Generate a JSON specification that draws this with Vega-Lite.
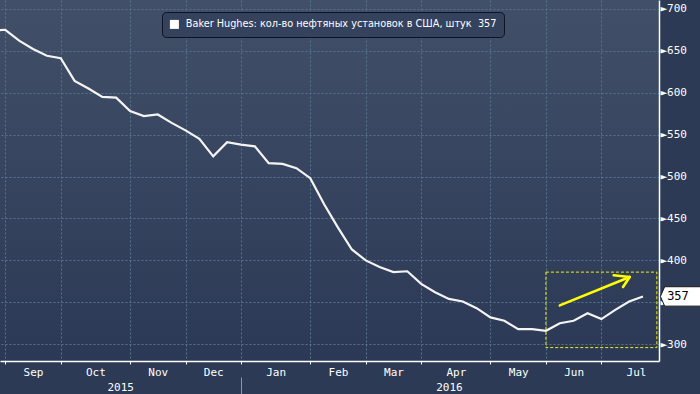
{
  "$schema": "https://vega.github.io/schema/vega-lite/v6.json",
  "autosize": {"type": "none"},
  "width": 659,
  "height": 361,
  "padding": {"left": 0, "top": 0, "right": 41, "bottom": 33},
  "background": "#2c3a56",
  "config": {
    "view": {"stroke": null, "fill": {"gradient": "linear", "x1": 0, "y1": 0, "x2": 0, "y2": 1, "stops": [{"offset": 0, "color": "#424f68"}, {"offset": 1, "color": "#2b3956"}]}},
    "axis": {"labelFont": "DejaVu Sans Mono", "labelFontSize": 11, "labelColor": "#ffffff", "domainColor": "#ffffff", "tickColor": "#ffffff", "gridColor": "#55758e", "gridDash": [2, 2], "gridWidth": 1}
  },
  "resolve": {"axis": {"x": "independent"}},
  "layer": [
    {
      "data": {"values": [
        {"date": "2015-08-21", "rigs": 674}, {"date": "2015-08-28", "rigs": 675}, {"date": "2015-09-04", "rigs": 662},
        {"date": "2015-09-11", "rigs": 652}, {"date": "2015-09-18", "rigs": 644}, {"date": "2015-09-25", "rigs": 641},
        {"date": "2015-10-02", "rigs": 614}, {"date": "2015-10-09", "rigs": 605}, {"date": "2015-10-16", "rigs": 595},
        {"date": "2015-10-23", "rigs": 594}, {"date": "2015-10-30", "rigs": 578}, {"date": "2015-11-06", "rigs": 572},
        {"date": "2015-11-13", "rigs": 574}, {"date": "2015-11-20", "rigs": 564}, {"date": "2015-11-27", "rigs": 555},
        {"date": "2015-12-04", "rigs": 545}, {"date": "2015-12-11", "rigs": 524}, {"date": "2015-12-18", "rigs": 541},
        {"date": "2015-12-25", "rigs": 538}, {"date": "2016-01-01", "rigs": 536}, {"date": "2016-01-08", "rigs": 516},
        {"date": "2016-01-15", "rigs": 515}, {"date": "2016-01-22", "rigs": 510}, {"date": "2016-01-29", "rigs": 498},
        {"date": "2016-02-05", "rigs": 467}, {"date": "2016-02-12", "rigs": 439}, {"date": "2016-02-19", "rigs": 413},
        {"date": "2016-02-26", "rigs": 400}, {"date": "2016-03-04", "rigs": 392}, {"date": "2016-03-11", "rigs": 386},
        {"date": "2016-03-18", "rigs": 387}, {"date": "2016-03-25", "rigs": 372}, {"date": "2016-04-01", "rigs": 362},
        {"date": "2016-04-08", "rigs": 354}, {"date": "2016-04-15", "rigs": 351}, {"date": "2016-04-22", "rigs": 343},
        {"date": "2016-04-29", "rigs": 332}, {"date": "2016-05-06", "rigs": 328}, {"date": "2016-05-13", "rigs": 318},
        {"date": "2016-05-20", "rigs": 318}, {"date": "2016-05-27", "rigs": 316}, {"date": "2016-06-03", "rigs": 325},
        {"date": "2016-06-10", "rigs": 328}, {"date": "2016-06-17", "rigs": 337}, {"date": "2016-06-24", "rigs": 330},
        {"date": "2016-07-01", "rigs": 341}, {"date": "2016-07-08", "rigs": 351}, {"date": "2016-07-15", "rigs": 357}
      ]},
      "mark": {"type": "line", "clip": true, "strokeWidth": 2.2},
      "encoding": {
        "x": {
          "field": "date", "type": "temporal",
          "scale": {"domain": [{"year": 2015, "month": 8, "date": 25, "hours": 8, "utc": true}, {"year": 2016, "month": 7, "date": 23, "hours": 2, "utc": true}], "nice": false},
          "axis": {
            "orient": "bottom", "title": null, "labels": false, "tickSize": 3, "grid": true, "domainWidth": 1.5,
            "values": [
              {"year": 2015, "month": 8, "date": 28, "utc": true}, {"year": 2015, "month": 9, "date": 25, "utc": true},
              {"year": 2015, "month": 10, "date": 30, "utc": true}, {"year": 2015, "month": 11, "date": 27, "utc": true},
              {"year": 2015, "month": 12, "date": 25, "utc": true}, {"year": 2016, "month": 1, "date": 29, "utc": true},
              {"year": 2016, "month": 2, "date": 26, "utc": true}, {"year": 2016, "month": 3, "date": 25, "utc": true},
              {"year": 2016, "month": 4, "date": 29, "utc": true}, {"year": 2016, "month": 5, "date": 27, "utc": true},
              {"year": 2016, "month": 6, "date": 24, "utc": true}
            ]
          }
        },
        "y": {
          "field": "rigs", "type": "quantitative",
          "scale": {"domain": [280, 710.5], "nice": false, "zero": false},
          "axis": {
            "orient": "right", "title": null, "tickSize": 4, "labelPadding": -3, "domainWidth": 1.5, "grid": true,
            "values": [300, 325, 350, 375, 400, 425, 450, 475, 500, 525, 550, 575, 600, 625, 650, 675, 700],
            "labelExpr": "datum.value % 50 == 0 ? '►' + datum.label : ''",
            "labelFlush": false, "labelOverlap": false,
            "gridOpacity": {"condition": {"test": "datum.value % 50 == 0", "value": 1}, "value": 0},
            "tickOpacity": {"condition": {"test": "datum.value % 50 == 0", "value": 0}, "value": 1}
          }
        },
        "color": {
          "datum": "Baker Hughes: кол-во нефтяных установок в США, штук\u00a0 357",
          "type": "nominal",
          "scale": {"range": ["#f4f4f4"]},
          "legend": {
            "orient": "none", "legendX": 162, "legendY": 12, "title": null,
            "fillColor": "#34425e", "strokeColor": "#0d1320", "cornerRadius": 4, "padding": 7,
            "labelFont": "DejaVu Sans Condensed", "labelFontSize": 10.8, "labelColor": "#ffffff", "labelLimit": 0, "labelOffset": 6,
            "symbolType": "square", "symbolSize": 81, "symbolFillColor": "#ffffff", "symbolStrokeColor": "#ffffff", "symbolStrokeWidth": 0,
            "encode": {"symbols": {"update": {"fill": {"value": "#ffffff"}, "stroke": {"value": "#ffffff"}, "strokeWidth": {"value": 0}, "shape": {"value": "square"}, "size": {"value": 81}}}}
          }
        }
      }
    },
    {
      "data": {"values": [{"start": "2016-05-27", "end": "2016-07-22", "low": 296, "high": 386}]},
      "mark": {"type": "rect", "fill": null, "fillOpacity": 0, "stroke": "#f2f200", "strokeWidth": 1, "strokeDash": [3, 2]},
      "encoding": {
        "x": {
          "field": "start", "type": "temporal",
          "axis": {
            "orient": "bottom", "title": null, "ticks": false, "tickSize": 0, "domain": false, "grid": false, "labelPadding": 5,
            "labelFlush": false, "labelOverlap": false, "labelBound": false,
            "labelExpr": "timeFormat(datum.value, '%b')",
            "values": [
              {"year": 2015, "month": 9, "date": 11, "utc": true}, {"year": 2015, "month": 10, "date": 12, "hours": 12, "utc": true},
              {"year": 2015, "month": 11, "date": 13, "utc": true}, {"year": 2015, "month": 12, "date": 11, "utc": true},
              {"year": 2016, "month": 1, "date": 11, "hours": 12, "utc": true}, {"year": 2016, "month": 2, "date": 12, "utc": true},
              {"year": 2016, "month": 3, "date": 11, "utc": true}, {"year": 2016, "month": 4, "date": 11, "hours": 12, "utc": true},
              {"year": 2016, "month": 5, "date": 13, "utc": true}, {"year": 2016, "month": 6, "date": 10, "utc": true},
              {"year": 2016, "month": 7, "date": 11, "hours": 12, "utc": true}
            ]
          }
        },
        "x2": {"field": "end"},
        "y": {"field": "low", "type": "quantitative"},
        "y2": {"field": "high"}
      }
    },
    {
      "data": {"values": [
        {"from": "2016-06-03T00:00:00Z", "fromV": 346.3, "to": "2016-07-08T07:00:00Z", "toV": 380.2},
        {"from": "2016-06-30T05:00:00Z", "fromV": 382.2, "to": "2016-07-08T07:00:00Z", "toV": 380.2},
        {"from": "2016-07-04T22:00:00Z", "fromV": 368.3, "to": "2016-07-08T07:00:00Z", "toV": 380.2}
      ]},
      "mark": {"type": "rule", "color": "#ffff00", "strokeWidth": 2.6, "strokeCap": "round"},
      "encoding": {
        "x": {
          "field": "from", "type": "temporal",
          "axis": {
            "orient": "bottom", "title": null, "offset": 16, "domain": false, "grid": false, "tickSize": 17, "tickWidth": 1,
            "tickColor": "#8c98a8", "labelPadding": -13, "labelFlush": false, "labelOverlap": false, "labelBound": false,
            "values": [{"year": 2015, "month": 10, "date": 25, "utc": true}, {"year": 2015, "month": 12, "date": 25, "utc": true}, {"year": 2016, "month": 4, "date": 8, "utc": true}],
            "labelExpr": "timeFormat(datum.value, '%m') == '12' ? '' : timeFormat(datum.value, '%Y')",
            "tickOpacity": {"condition": {"test": "timeFormat(datum.value, '%m') == '12'", "value": 1}, "value": 0}
          }
        },
        "x2": {"field": "to"},
        "y": {"field": "fromV", "type": "quantitative"},
        "y2": {"field": "toV"}
      }
    },
    {
      "data": {"values": [{"date": "2016-07-15", "rigs": 357, "tag": "357"}]},
      "layer": [
        {
          "mark": {"type": "point", "filled": true, "opacity": 1, "fill": "#ffffff", "stroke": "#1a1a1a", "strokeWidth": 1, "size": 400, "xOffset": 38,
            "shape": "M-2.06,0L-1.63,-0.97L3.9,-0.97L3.9,0.97L-1.63,0.97Z"},
          "encoding": {
            "x": {"field": "date", "type": "temporal", "axis": null},
            "y": {"field": "rigs", "type": "quantitative"}
          }
        },
        {
          "mark": {"type": "text", "color": "#000000", "font": "DejaVu Sans Mono", "fontSize": 12, "align": "center", "baseline": "middle", "dx": 35},
          "encoding": {
            "x": {"field": "date", "type": "temporal", "axis": null},
            "y": {"field": "rigs", "type": "quantitative"},
            "text": {"field": "tag"}
          }
        }
      ]
    }
  ]
}
